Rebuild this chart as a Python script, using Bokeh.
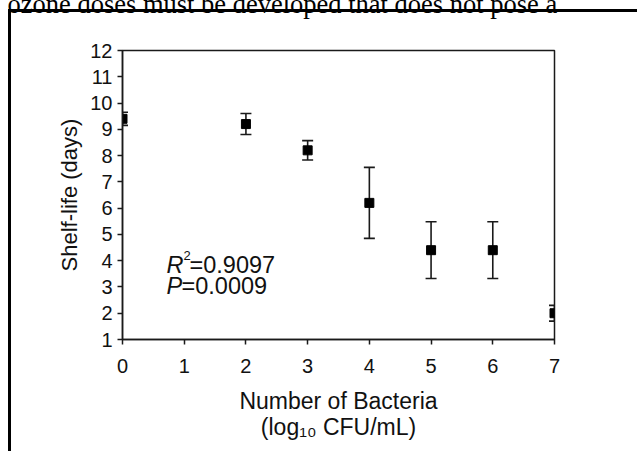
from bokeh.plotting import figure
from bokeh.models import ColumnDataSource, Whisker, TeeHead, Label, Range1d, FixedTicker
from bokeh.embed import file_html
from bokeh.resources import INLINE

# ---- data ----
bacteria_log = [0, 2, 3, 4, 5, 6, 7]
shelf_life = [9.4, 9.2, 8.2, 6.2, 4.4, 4.4, 2.0]
shelf_err = [0.25, 0.4, 0.37, 1.35, 1.08, 1.08, 0.3]
x_ticks = [0, 1, 2, 3, 4, 5, 6, 7]
y_ticks = list(range(1, 13))
stats_r2 = "0.9097"
stats_p = "0.0009"
x_title = "Number of Bacteria\n(log\u2081\u2080 CFU/mL)"
y_title = "Shelf-life (days)"
page_text = "ozone doses must be developed that does not pose a"

# page-pixel layout of the reference
FL, FR, FT, FB = 123, 555, 51, 340
OX, OY = 7, 45          # canvas = page + offset (figure pulled up/left by CSS)
W, H = 645, 497

p = figure(width=W, height=H, output_backend="svg", toolbar_location=None,
           x_range=Range1d(0, 7), y_range=Range1d(1, 12),
           min_border_left=FL + OX, min_border_right=W - (FR + OX),
           min_border_top=FT + OY, min_border_bottom=H - (FB + OY),
           background_fill_color="white", border_fill_alpha=0)
p.styles = {
    "margin-top": "-%dpx" % (OY + 1), "margin-left": "-%dpx" % (OX + 1),
    "background": ("linear-gradient(#000,#000) %dpx %dpx / 3px 100%% no-repeat, "
                   "linear-gradient(#000,#000) %dpx %dpx / 100%% 3px no-repeat, #fff")
                  % (9 + OX, 10 + OY, 9 + OX, 10 + OY),
}

def dx(px):
    return (px - FL) / ((FR - FL) / 7.0)

def dy(py):
    return 1 + (FB - py) / ((FB - FT) / 11.0)

p.grid.visible = False
p.outline_line_color = "#1a1a1a"
p.outline_line_width = 1.5

for ax in (p.xaxis[0], p.yaxis[0]):
    ax.axis_line_color = "#1a1a1a"
    ax.axis_line_width = 1.5
    ax.major_tick_line_color = "#1a1a1a"
    ax.major_tick_line_width = 1.5
    ax.major_tick_out = 5
    ax.major_tick_in = 0
    ax.minor_tick_line_color = None
    ax.major_label_text_font = "Liberation Sans"
    ax.major_label_text_font_size = "20px"
    ax.major_label_text_color = "#111111"
    ax.axis_label_text_font = "Liberation Sans"
    ax.axis_label_text_font_size = "22px"
    ax.axis_label_text_font_style = "normal"
    ax.axis_label_text_color = "#111111"

p.xaxis.ticker = FixedTicker(ticks=x_ticks)
p.yaxis.ticker = FixedTicker(ticks=y_ticks)
p.xaxis.major_label_standoff = 14
p.yaxis.major_label_standoff = 5
p.yaxis.axis_label = y_title
p.yaxis.axis_label_standoff = 5
p.xaxis.axis_label = x_title
p.xaxis.axis_label_standoff = 12
p.xaxis.axis_label_text_font_size = "23px"
p.xaxis.axis_label_text_line_height = 1.0

# running page text above the figure box (cut off at the window top)
p.title.text = page_text
p.title.align = "left"
p.title.offset = 8 - FL
p.title.text_font = "Liberation Serif"
p.title.text_font_size = "26.5px"
p.title.text_font_style = "normal"
p.title.text_color = "#000000"
p.title.standoff = 63

src = ColumnDataSource(dict(
    x=bacteria_log, y=shelf_life,
    upper=[v + e for v, e in zip(shelf_life, shelf_err)],
    lower=[v - e for v, e in zip(shelf_life, shelf_err)]))

wh = Whisker(base="x", upper="upper", lower="lower", source=src,
             line_color="#1a1a1a", line_width=1.6,
             upper_head=TeeHead(size=11, line_color="#1a1a1a", line_width=1.6),
             lower_head=TeeHead(size=11, line_color="#1a1a1a", line_width=1.6))
p.add_layout(wh)
p.scatter("x", "y", source=src, marker="square", size=9,
          fill_color="black", line_color="black")

def lab(text, px, py, size, style="normal"):
    p.add_layout(Label(x=dx(px), y=dy(py), text=text, text_font="Liberation Sans",
                       text_font_size=size, text_font_style=style,
                       text_color="#111111", text_align="left",
                       text_baseline="alphabetic"))

lab("R", 167, 265, "23.5px", style="italic")
lab("2", 184, 256, "13px")
lab("=" + stats_r2, 190, 265, "23.5px")
lab("P", 167, 286, "23.5px", style="italic")
lab("=" + stats_p, 182, 286, "23.5px")

open("out.html", "w").write(file_html(p, INLINE))
